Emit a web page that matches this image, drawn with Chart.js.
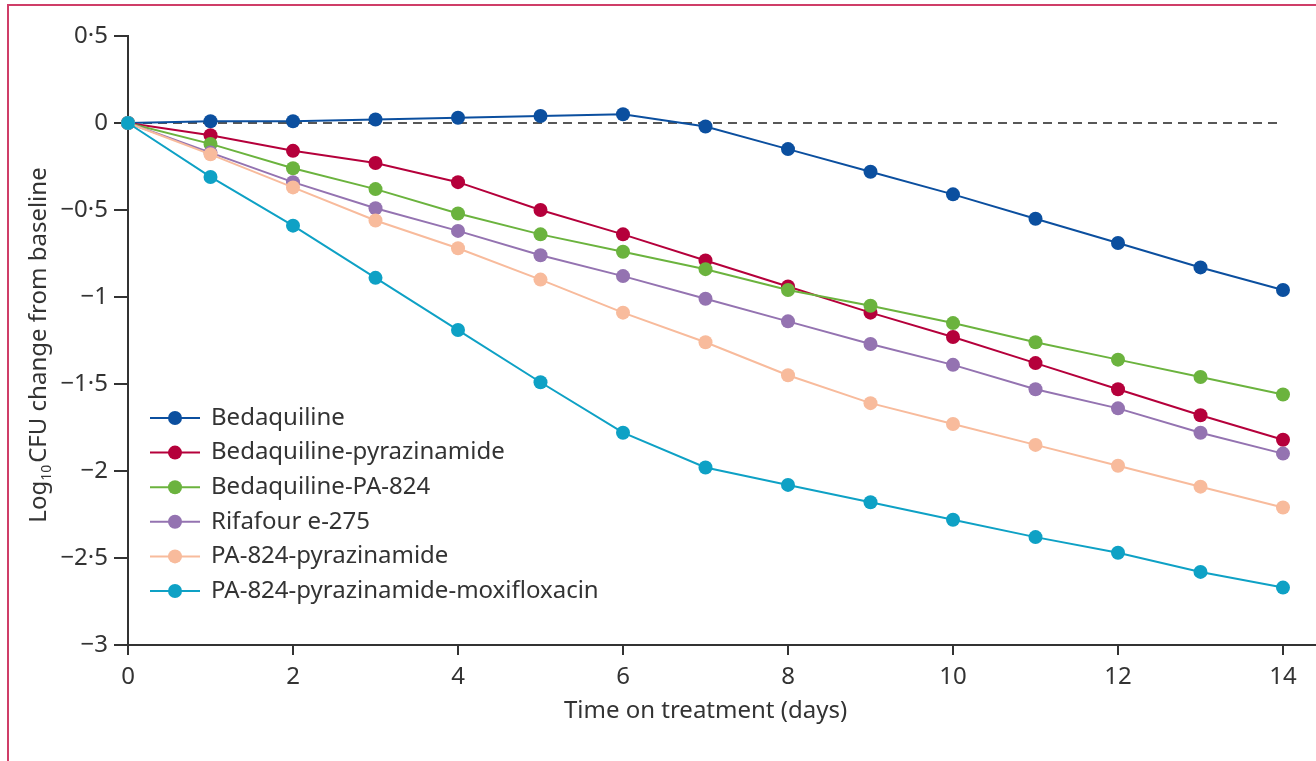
<!DOCTYPE html>
<html>
<head>
<meta charset="utf-8">
<script src="https://cdn.jsdelivr.net/npm/chart.js@4.4.0/dist/chart.umd.min.js"></script>
<style>
  html, body { margin: 0; padding: 0; background: #fff; overflow: hidden; }
  #wrap { position: relative; width: 1316px; height: 761px; }
  #frame { position: absolute; left: 7px; top: 4px; width: 1400px; height: 900px;
           border-top: 2px solid #cf3d68; border-left: 2px solid #cf3d68; }
  canvas { position: absolute; left: 0; top: 0; }
</style>
</head>
<body>
<div id="wrap">
  <div id="frame"></div>
  <canvas id="cfuChart" width="1316" height="761"></canvas>
</div>
<script>
// days on treatment
const days = [0, 1, 2, 3, 4, 5, 6, 7, 8, 9, 10, 11, 12, 13, 14];

// log10 CFU change from baseline
const bedaquiline = [0, 0.01, 0.01, 0.02, 0.03, 0.04, 0.05, -0.02, -0.15, -0.28, -0.41, -0.55, -0.69, -0.83, -0.96];
const bedaquilinePyrazinamide = [0, -0.07, -0.16, -0.23, -0.34, -0.50, -0.64, -0.79, -0.94, -1.09, -1.23, -1.38, -1.53, -1.68, -1.82];
const bedaquilinePA824 = [0, -0.12, -0.26, -0.38, -0.52, -0.64, -0.74, -0.84, -0.96, -1.05, -1.15, -1.26, -1.36, -1.46, -1.56];
const rifafour = [0, -0.17, -0.34, -0.49, -0.62, -0.76, -0.88, -1.01, -1.14, -1.27, -1.39, -1.53, -1.64, -1.78, -1.90];
const pa824Pyrazinamide = [0, -0.18, -0.37, -0.56, -0.72, -0.90, -1.09, -1.26, -1.45, -1.61, -1.73, -1.85, -1.97, -2.09, -2.21];
const pa824PyrazinamideMoxi = [0, -0.31, -0.59, -0.89, -1.19, -1.49, -1.78, -1.98, -2.08, -2.18, -2.28, -2.38, -2.47, -2.58, -2.67];

const seriesLabels = ['Bedaquiline', 'Bedaquiline-pyrazinamide', 'Bedaquiline-PA-824',
  'Rifafour e-275', 'PA-824-pyrazinamide', 'PA-824-pyrazinamide-moxifloxacin'];
const seriesValues = [bedaquiline, bedaquilinePyrazinamide, bedaquilinePA824,
  rifafour, pa824Pyrazinamide, pa824PyrazinamideMoxi];
const seriesColors = ['#0b4f9f', '#b5003b', '#6bb33e', '#9473b1', '#f8bb9c', '#0ea1c5'];

const FONT = '"Noto Sans", "Open Sans", sans-serif';
const TEXT = '#333333';

function fmtTick(v) {
  return String(Math.round(v * 10) / 10).replace('.', '\u00b7').replace('-', '\u2212');
}

// dashed zero line, axis titles and the legend inside the plot
const extrasPlugin = {
  id: 'extras',
  beforeDatasetsDraw(chart) {
    const { ctx, scales } = chart;
    const y0 = scales.y.getPixelForValue(0);
    ctx.save();
    ctx.strokeStyle = '#222';
    ctx.lineWidth = 1.5;
    ctx.setLineDash([9, 6]);
    ctx.beginPath();
    ctx.moveTo(scales.x.getPixelForValue(0), y0);
    ctx.lineTo(scales.x.getPixelForValue(14), y0);
    ctx.stroke();
    ctx.restore();
  },
  afterDraw(chart) {
    const { ctx, scales, chartArea } = chart;
    ctx.save();
    ctx.fillStyle = TEXT;

    // x title, centred on the 0-14 range
    ctx.font = '24px ' + FONT;
    ctx.textAlign = 'center';
    ctx.textBaseline = 'middle';
    ctx.fillText('Time on treatment (days)', scales.x.getPixelForValue(7), 711);

    // y title with subscript
    ctx.translate(38, 345);
    ctx.rotate(-Math.PI / 2);
    const a = 'Log', sub = '10', b = 'CFU change from baseline';
    ctx.font = '24px ' + FONT;
    const wa = ctx.measureText(a).width, wb = ctx.measureText(b).width;
    ctx.font = '14px ' + FONT;
    const ws = ctx.measureText(sub).width;
    let x = -(wa + ws + wb + 2) / 2;
    ctx.textAlign = 'left';
    ctx.textBaseline = 'alphabetic';
    ctx.font = '24px ' + FONT;
    ctx.fillText(a, x, 8);
    x += wa;
    ctx.font = '14px ' + FONT;
    ctx.fillText(sub, x, 13);
    x += ws + 2;
    ctx.font = '24px ' + FONT;
    ctx.fillText(b, x, 8);
    ctx.restore();

    // legend
    ctx.save();
    const lx = chartArea.left + 22;
    let ly = 418;
    chart.data.datasets.forEach(ds => {
      ctx.strokeStyle = ds.borderColor;
      ctx.lineWidth = 2;
      ctx.beginPath();
      ctx.moveTo(lx, ly);
      ctx.lineTo(lx + 50, ly);
      ctx.stroke();
      ctx.fillStyle = ds.backgroundColor;
      ctx.beginPath();
      ctx.arc(lx + 25, ly, 7, 0, Math.PI * 2);
      ctx.fill();
      ctx.fillStyle = TEXT;
      ctx.font = '24px ' + FONT;
      ctx.textAlign = 'left';
      ctx.textBaseline = 'middle';
      ctx.fillText(ds.label, lx + 61, ly);
      ly += 34.6;
    });
    ctx.restore();
  }
};

const ctx = document.getElementById('cfuChart').getContext('2d');

new Chart(ctx, {
  type: 'line',
  data: {
    datasets: seriesLabels.map((label, i) => ({
      label: label,
      data: days.map((d, j) => ({ x: d, y: seriesValues[i][j] })),
      borderColor: seriesColors[i],
      backgroundColor: seriesColors[i],
      pointBackgroundColor: seriesColors[i],
      pointBorderWidth: 0,
      pointRadius: 7,
      borderWidth: 2,
      tension: 0,
      clip: false,
      order: seriesLabels.length - i,
    }))
  },
  options: {
    responsive: false,
    animation: false,
    layout: { autoPadding: false, padding: { top: 36, right: 0, left: 0, bottom: 0 } },
    plugins: {
      legend: { display: false },
      tooltip: { enabled: false },
    },
    scales: {
      x: {
        type: 'linear',
        min: 0,
        max: 14.4,
        afterFit: (scale) => { scale.height = 116; },
        grid: { drawOnChartArea: false, drawTicks: true, tickLength: 10, color: '#333', lineWidth: 2 },
        border: { color: '#333', width: 2 },
        ticks: {
          stepSize: 2,
          includeBounds: false,
          padding: 8,
          color: TEXT,
          font: { family: FONT, size: 24 },
          maxRotation: 0,
        },
      },
      y: {
        min: -3,
        max: 0.5,
        afterFit: (scale) => { scale.width = 128; },
        grid: { drawOnChartArea: false, drawTicks: true, tickLength: 14, color: '#333', lineWidth: 2 },
        border: { color: '#333', width: 2 },
        ticks: {
          stepSize: 0.5,
          padding: 6,
          color: TEXT,
          font: { family: FONT, size: 24 },
          callback: (v) => fmtTick(v),
        },
      },
    },
  },
  plugins: [extrasPlugin],
});
</script>
</body>
</html>
